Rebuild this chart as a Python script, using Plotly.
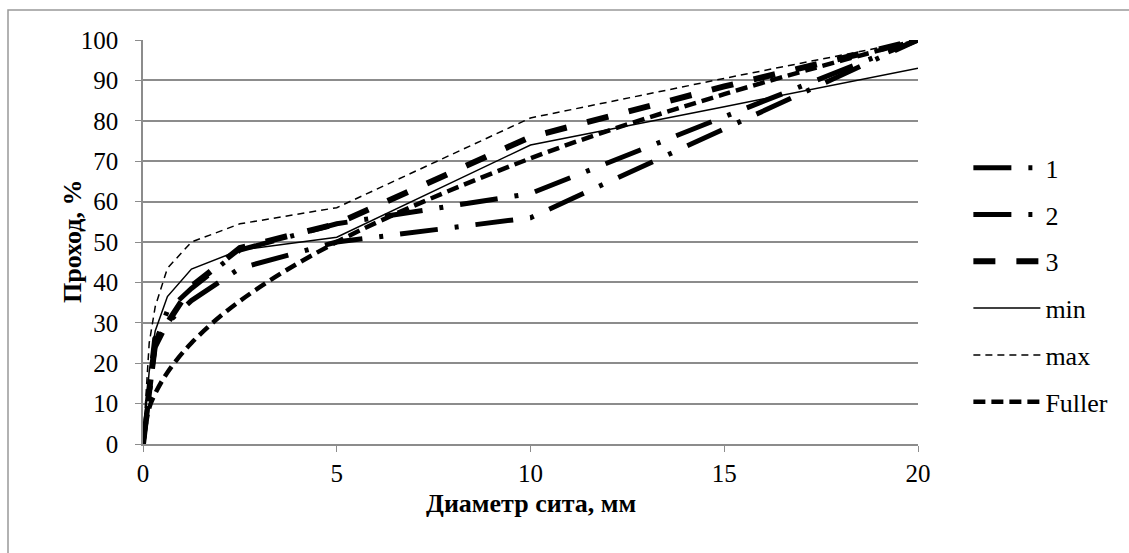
import plotly.graph_objects as go

# Sieve sizes, mm
sieve = [0, 0.16, 0.315, 0.63, 1.25, 2.5, 5, 10, 15, 20]

s1 = [0, 14, 25, 33, 38.5, 48, 54.5, 62, 81, 100]
s2 = [0, 12, 24, 30, 35.5, 43.5, 50, 56, 78, 100]
s3 = [0, 15, 26, 30, 39, 48.5, 54.5, 76, 88.5, 100]
s_min = [0, 18, 28, 36.5, 43.3, 48, 51.2, 74, 83.5, 93]
s_max = [0, 25, 34, 43.5, 50, 54.5, 58.5, 80.7, 90.5, 100]
fuller = [0, 8.9, 12.5, 17.7, 25, 35.4, 50, 70.7, 86.6, 100]

names = ["1", "2", "3", "min", "max", "Fuller"]
series = [s1, s2, s3, s_min, s_max, fuller]
widths = [5, 5, 6, 1.5, 1.5, 4.5]
dashes = ["38px,17px,4px,17px", "38px,17px,4px,17px", "22px,21px",
          "solid", "7px,5px", "12px,6px"]
shapes_ = ["linear", "linear", "linear", "linear", "linear", "spline"]

fig = go.Figure()
for i, (n, ys) in enumerate(zip(names, series)):
    fig.add_trace(go.Scatter(
        x=sieve, y=ys, name=n, mode="lines", legendgroup=n,
        line=dict(color="black", width=widths[i], dash=dashes[i], shape=shapes_[i]),
    ))

font = "Liberation Serif"
grid = "#8c8c8c"
fs = 25

fig.update_layout(
    width=1129, height=553,
    margin=dict(l=143, r=211, t=40, b=109),
    paper_bgcolor="white", plot_bgcolor="white",
    font=dict(family=font, size=fs, color="black"),
    showlegend=True,
    legend=dict(x=1.065, xanchor="left", y=0.394, yanchor="middle",
                font=dict(family=font, size=26), tracegroupgap=10,
                itemwidth=67, bgcolor="rgba(0,0,0,0)"),
    xaxis=dict(range=[0, 20], tickvals=[0, 5, 10, 15, 20], showgrid=False,
               showline=True, linecolor=grid, linewidth=1.5, ticks="outside",
               ticklen=6, tickcolor=grid, zeroline=False, ticklabelstandoff=0,
               tickfont=dict(family=font, size=fs)),
    yaxis=dict(range=[0, 100], dtick=10, showgrid=True, gridcolor=grid, gridwidth=1.5,
               showline=True, linecolor=grid, linewidth=1.5, ticks="outside",
               ticklen=6, tickcolor=grid, zeroline=False, ticklabelstandoff=12,
               tickfont=dict(family=font, size=fs)),
    annotations=[
        dict(text="<b>Диаметр сита, мм</b>", xref="paper", yref="paper",
             x=0.5, y=(444 - 504) / 404, xanchor="center", yanchor="middle",
             showarrow=False, font=dict(family=font, size=26)),
        dict(text="<b>Проход, %</b>", xref="paper", yref="paper",
             x=(72 - 143) / 775, y=0.5, xanchor="center", yanchor="middle",
             textangle=-90, showarrow=False, font=dict(family=font, size=26)),
    ],
    shapes=[dict(type="rect", xref="paper", yref="paper",
                 x0=(8 - 143) / 775, x1=1.3, y0=-0.3, y1=(444 - 10) / 404,
                 line=dict(color="#999999", width=1.5), layer="below")],
)

fig.write_html("out.html")
